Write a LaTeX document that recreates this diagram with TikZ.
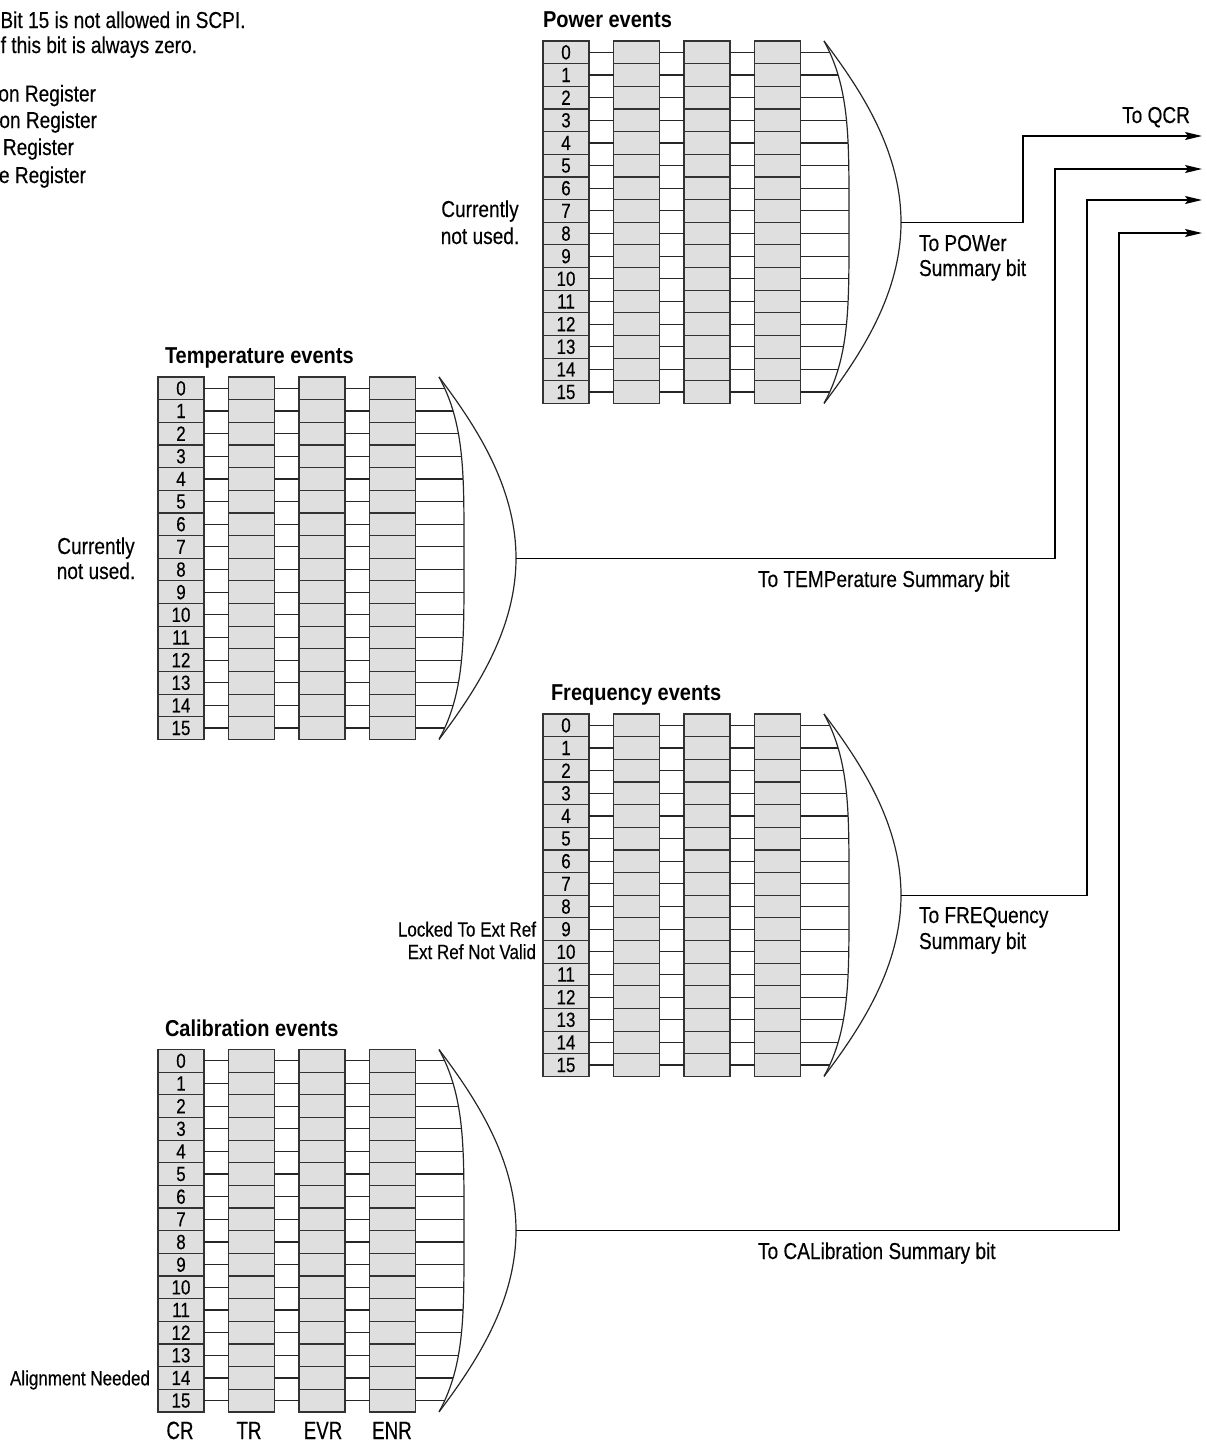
\documentclass[tikz,border=0pt]{standalone}
\usepackage{fontspec}
\setmainfont{Liberation Sans}[FakeStretch=0.83, FakeBold=0.3]
\newfontfamily\titlefont{Liberation Sans}[FakeStretch=0.87]
\newfontfamily\capfont{Liberation Sans}[FakeStretch=0.75, FakeBold=0.3]
\usetikzlibrary{arrows.meta}

\tikzset{
  cell/.style={draw=black!80, fill=gray!25, line width=1.2pt, minimum width=46pt,
    minimum height=22.65pt, inner sep=0pt, outer sep=0pt, anchor=north west,
    font=\fontsize{20.5}{20.5}\selectfont},
  wire/.style={line width=1.2pt, black!85},
  feed/.style={line width=1.3pt, black, -{Stealth[length=17pt,width=8pt,inset=3pt]}},
  txt/.style={inner sep=0pt, outer sep=0pt, font=\fontsize{23}{27}\selectfont},
  smalltxt/.style={inner sep=0pt, outer sep=0pt, font=\fontsize{20.5}{24}\selectfont},
  title/.style={inner sep=0pt, outer sep=0pt, font=\titlefont\bfseries\fontsize{23}{27}\selectfont},
  colcap/.style={inner sep=0pt, outer sep=0pt, font=\capfont\fontsize{25}{29}\selectfont},
}

% One status register group: CR, TR, EVR and ENR columns of 16 bits,
% feeding an OR-shaped summary gate. #1 name, #2 left x, #3 top y.
\newcommand\regblock[3]{%
  \foreach \rw in {0,...,15}{%
    \pgfmathsetmacro\yy{#3+\rw*22.65}%
    \pgfmathsetmacro\uu{(\rw+0.5)*22.65/181.2-1}%
    \node[cell] (#1-cr-\rw) at (#2,\yy) {\rw};
    \node[cell] (#1-tr-\rw) at (#2+70.5,\yy) {};
    \node[cell] (#1-evr-\rw) at (#2+141,\yy) {};
    \node[cell] (#1-enr-\rw) at (#2+211.5,\yy) {};
    \coordinate (#1-in-\rw) at ({#2+281+25*(1-\uu*\uu*\uu*\uu)},{\yy+11.325});
    \draw[wire] (#1-cr-\rw.east) -- (#1-tr-\rw.west);
    \draw[wire] (#1-tr-\rw.east) -- (#1-evr-\rw.west);
    \draw[wire] (#1-evr-\rw.east) -- (#1-enr-\rw.west);
    \draw[wire] (#1-enr-\rw.east) -- (#1-in-\rw);
  }
  \draw[wire] plot[domain=-1:1, samples=41, smooth]
    ({#2+281+25*(1-\x*\x*\x*\x)},{#3+181.2+181.2*\x});
  \draw[wire] ({#2+281},{#3}) .. controls ({#2+318},{#3+49}) and ({#2+358},{#3+110})
    .. ({#2+358},{#3+181.2}) .. controls ({#2+358},{#3+252.4}) and ({#2+318},{#3+313.4})
    .. ({#2+281},{#3+362.4});
  \coordinate (#1-out) at ({#2+358},{#3+181.2});
}

\begin{document}
\begin{tikzpicture}[x=1pt,y=-1pt]
\useasboundingbox (0,0) rectangle (1207,1443);
\clip (0,0) rectangle (1207,1443);

% legend notes in the upper left corner
\node[txt, anchor=base west] (note1) at (0.5,28) {Bit 15 is not allowed in SCPI.};
\node[txt, anchor=base east] (note2) at (197,53) {f this bit is always zero.};
\node[txt, anchor=base east] (key1) at (96,101.5) {on Register};
\node[txt, anchor=base east] (key2) at (97,128) {on Register};
\node[txt, anchor=base east] (key3) at (74,155) {Register};
\node[txt, anchor=base east] (key4) at (86,183) {e Register};

% the four register groups
\regblock{P}{543}{41}
\regblock{T}{158}{377}
\regblock{F}{543}{714}
\regblock{C}{158}{1049.5}

% group titles
\node[title, anchor=base west] (P-title) at (543,27.5) {Power events};
\node[title, anchor=base west] (T-title) at (165,363.5) {Temperature events};
\node[title, anchor=base west] (F-title) at (551,700.5) {Frequency events};
\node[title, anchor=base west] (C-title) at (165,1036) {Calibration events};

% bit annotations
\node[txt, anchor=base] (P-unused1) at (480,217) {Currently};
\node[txt, anchor=base] (P-unused2) at (480,244) {not used.};
\node[txt, anchor=base] (T-unused1) at (96,554) {Currently};
\node[txt, anchor=base] (T-unused2) at (96,579) {not used.};
\node[smalltxt, anchor=base east] (F-bit9) at (536,936.5) {Locked To Ext Ref};
\node[smalltxt, anchor=base east] (F-bit10) at (536,959) {Ext Ref Not Valid};
\node[smalltxt, anchor=base east] (C-bit14) at (150,1385.3) {Alignment Needed};

% column captions
\node[colcap, anchor=base] (cap-cr) at (180,1439) {CR};
\node[colcap, anchor=base] (cap-tr) at (249,1439) {TR};
\node[colcap, anchor=base] (cap-evr) at (323,1439) {EVR};
\node[colcap, anchor=base] (cap-enr) at (392,1439) {ENR};

% summary outputs to the questionable condition register
\coordinate (P-bend) at (1023,136);  \coordinate (P-end) at (1202,136);
\coordinate (T-bend) at (1055,169);  \coordinate (T-end) at (1202,169);
\coordinate (F-bend) at (1087,200);  \coordinate (F-end) at (1202,200);
\coordinate (C-bend) at (1119,233);  \coordinate (C-end) at (1202,233);
\draw[feed] (P-out) -| (P-bend) -- (P-end);
\draw[feed] (T-out) -| (T-bend) -- (T-end);
\draw[feed] (F-out) -| (F-bend) -- (F-end);
\draw[feed] (C-out) -| (C-bend) -- (C-end);

\node[txt, anchor=base east] (qcr) at (1190,123) {To QCR};
\node[txt, anchor=base west] (P-sum1) at (919,251) {To POWer};
\node[txt, anchor=base west] (P-sum2) at (919,276) {Summary bit};
\node[txt, anchor=base west] (T-sum) at (758,587) {To TEMPerature Summary bit};
\node[txt, anchor=base west] (F-sum1) at (919,923) {To FREQuency};
\node[txt, anchor=base west] (F-sum2) at (919,949) {Summary bit};
\node[txt, anchor=base west] (C-sum) at (758,1259) {To CALibration Summary bit};
\end{tikzpicture}
\end{document}
